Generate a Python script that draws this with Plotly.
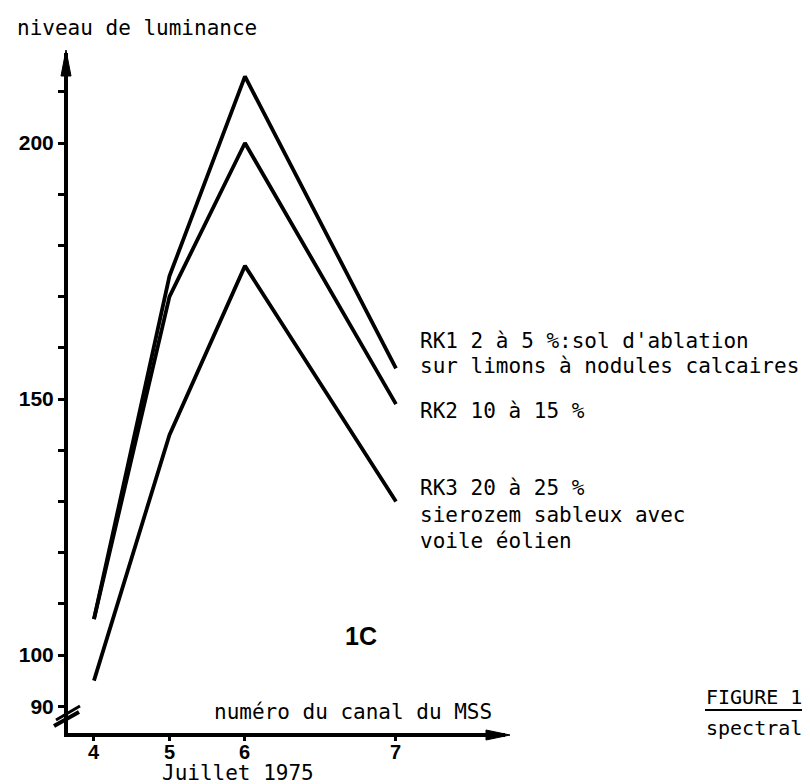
import plotly.graph_objects as go

# ---- data ----
channels = ["4", "5", "6", "7"]                 # MSS channel numbers
band_center_um = [0.55, 0.65, 0.75, 0.95]       # spectral centre of each MSS channel
rk1 = [107, 174, 213, 156]
rk2 = [107, 170, 200, 149]
rk3 = [95, 143, 176, 130]
y_tick_vals = [90, 100, 110, 120, 130, 140, 150, 160, 170, 180, 190, 200, 210]
y_tick_text = ["90", "100", "", "", "", "", "150", "", "", "", "", "200", ""]

label_rk1 = ["RK1 2 à 5 %:sol d'ablation", "sur limons à nodules calcaires"]
label_rk2 = ["RK2 10 à 15 %"]
label_rk3 = ["RK3 20 à 25 %", "sierozem sableux avec", "voile éolien"]

W, H = 810, 784
L, R, T, B = 60, 497, 45, 725  # plot area in pixels


def px(x):
    return (x - L) / (R - L)


def py(y):
    return (B - y) / (B - T)


MONO = "DejaVu Sans Mono"
BOLD = "Liberation Sans"

fig = go.Figure()
for s in (rk1, rk2, rk3):
    fig.add_trace(go.Scatter(x=band_center_um, y=s, mode="lines",
                             line=dict(color="black", width=3.8),
                             hoverinfo="skip"))

fig.update_layout(
    width=W, height=H,
    margin=dict(l=L, r=W - R, t=T, b=H - B, pad=0),
    paper_bgcolor="white", plot_bgcolor="white",
    showlegend=False,
    xaxis=dict(range=[0.5156, 1.0944], showline=True, linecolor="black", linewidth=4,
               ticks="outside", ticklen=4, tickwidth=3, tickcolor="black",
               tickvals=band_center_um, ticktext=[""] * len(channels),
               showticklabels=False,
               showgrid=False, zeroline=False),
    yaxis=dict(range=[84.77, 217.58], showline=True, linecolor="black", linewidth=4,
               ticks="outside", ticklen=6, tickwidth=2.5, tickcolor="black",
               tickvals=y_tick_vals, ticktext=y_tick_text,
               tickfont=dict(family=BOLD, size=21, color="black", weight="bold"),
               showgrid=False, zeroline=False),
)

ann = []


def text(x, y, s, size=21, family=MONO, anchor="left", bold=False):
    ann.append(dict(x=px(x), y=py(y), xref="paper", yref="paper", text=s,
                    showarrow=False, xanchor=anchor, yanchor="middle",
                    borderpad=0,
                    font=dict(family=family, size=size, color="black",
                              weight="bold" if bold else "normal")))


# x tick labels placed through the x scale
for xv, lab in zip(band_center_um, channels):
    ann.append(dict(x=xv, y=py(744), xref="x", yref="paper", text=lab,
                    showarrow=False, xanchor="center", yanchor="middle",
                    font=dict(family=BOLD, size=20, color="black", weight="bold")))

text(8, 20, "niveau de luminance")
for i, s in enumerate(label_rk1):
    text(411, 333 + i * 25, s)
for s in label_rk2:
    text(411, 403, s)
for i, s in enumerate(label_rk3):
    text(411, 480 + i * 26.5, s)
text(205, 704, "numéro du canal du MSS")
text(153, 765, "Juillet 1975")
text(697, 689, "FIGURE 1", size=20)
text(697, 720, "spectrale", size=20)
text(353, 628, "1C", size=25, family=BOLD, anchor="center", bold=True)

shapes = []


def seg(x0, y0, x1, y1, w=2):
    shapes.append(dict(type="line", xref="paper", yref="paper",
                       x0=px(x0), y0=py(y0), x1=px(x1), y1=py(y1),
                       line=dict(color="black", width=w)))


def tri(pts):
    d = "M " + " L ".join(f"{px(a)} {py(b)}" for a, b in pts) + " Z"
    shapes.append(dict(type="path", xref="paper", yref="paper", path=d,
                       fillcolor="black", line=dict(color="black", width=1)))


# arrowheads
tri([(58, 42), (53, 68), (63, 68)])
tri([(502, 727), (478, 722), (478, 732)])
# axis break marks
seg(46, 718, 71, 704, 4)
seg(48, 712, 72, 698, 3)
# underlines
seg(155, 782, 313, 782, 2)
seg(697, 702, 810, 702, 2)

fig.update_layout(annotations=ann, shapes=shapes)
fig.write_html("out.html")
